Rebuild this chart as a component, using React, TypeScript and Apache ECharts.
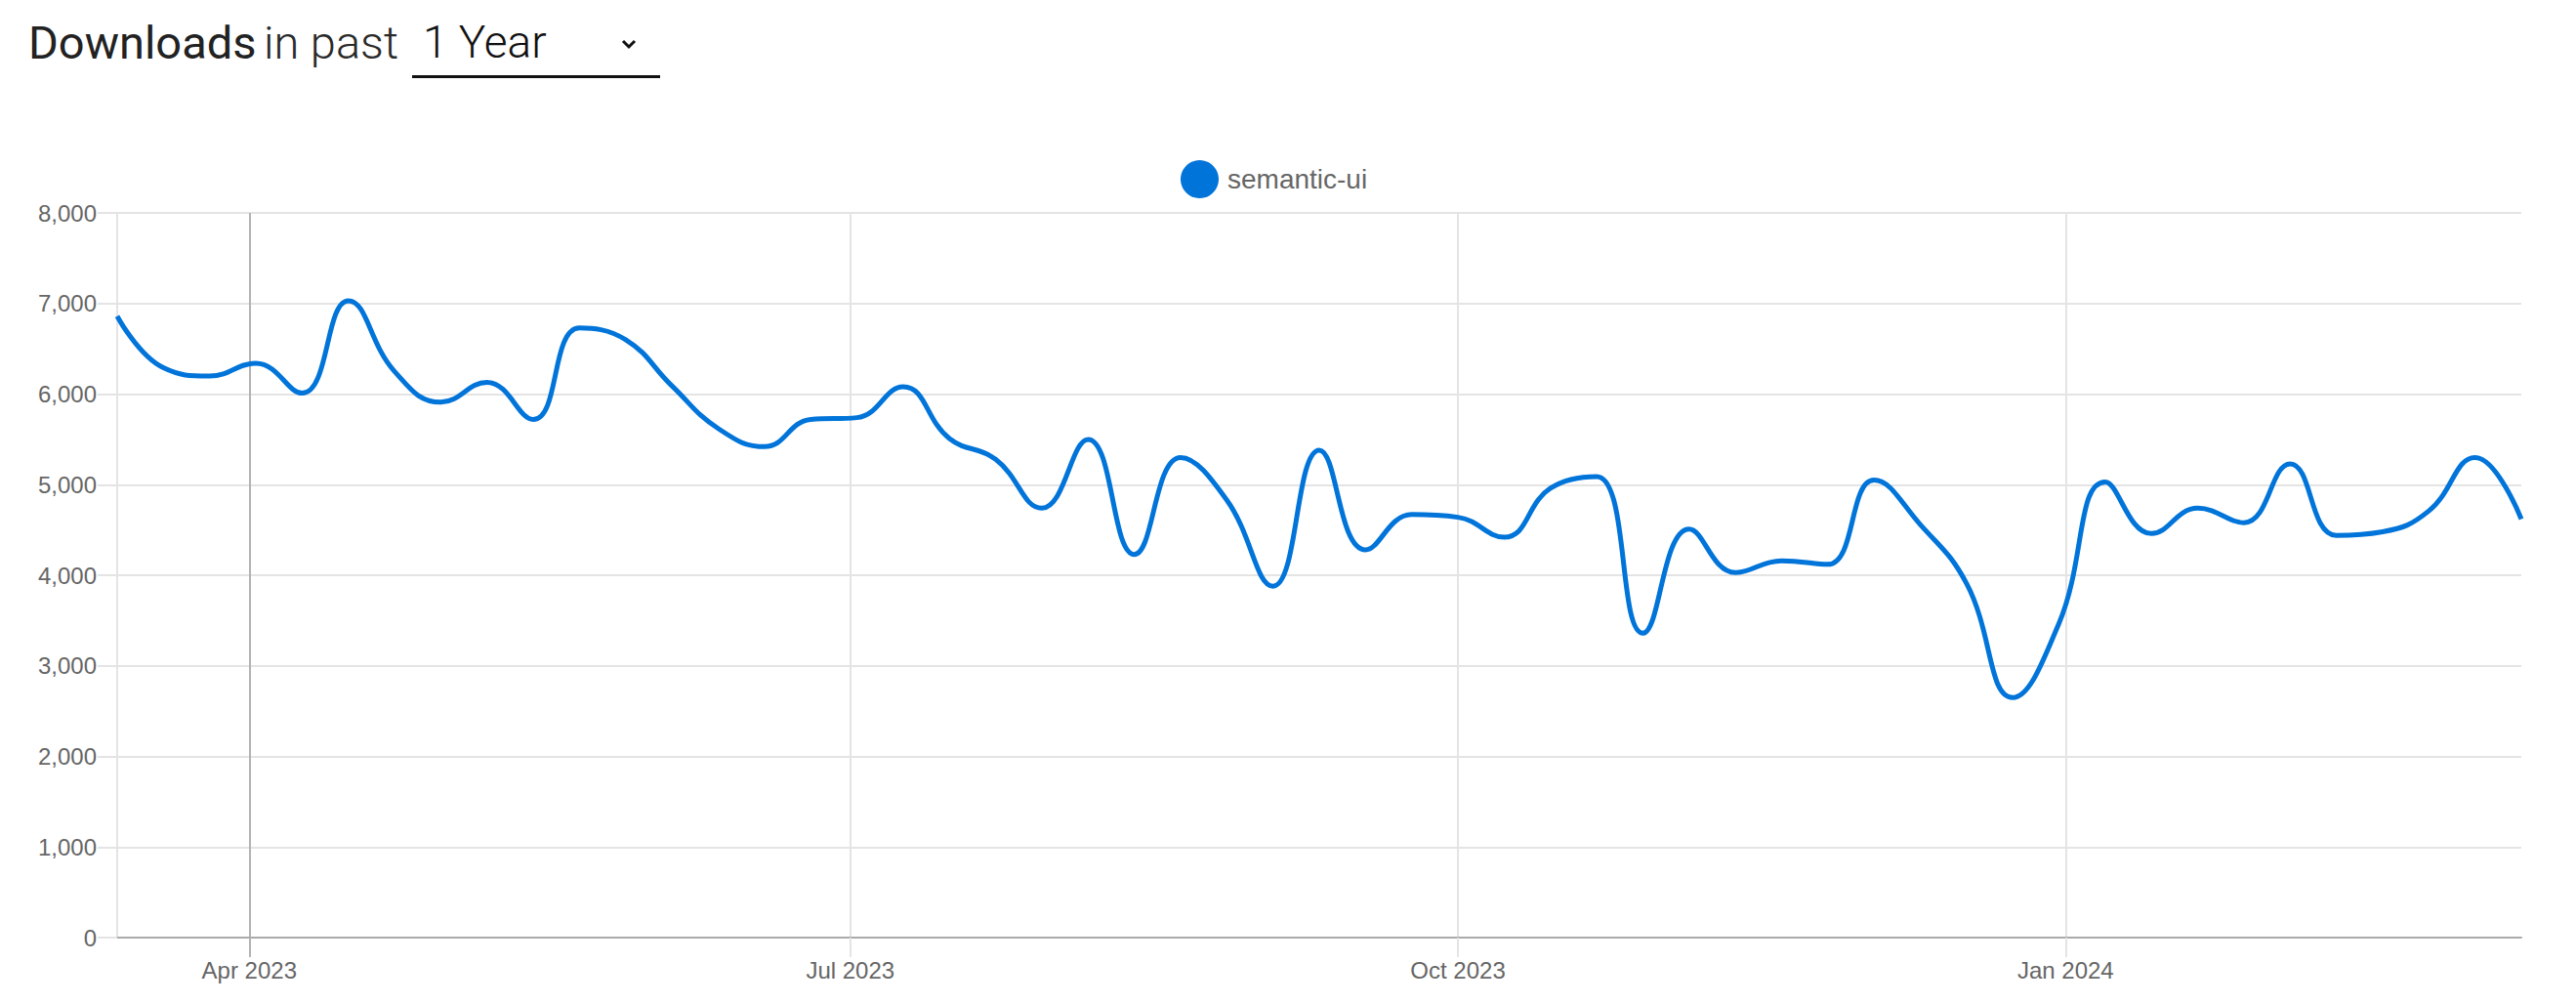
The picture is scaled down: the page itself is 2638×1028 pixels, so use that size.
import React, { useEffect, useRef } from 'react';
import * as echarts from 'echarts';

// Weekly points (week starting dates) for the past year
const weekDates: string[] = [
  '2023-03-12', '2023-03-19', '2023-03-26', '2023-04-02', '2023-04-09', '2023-04-16', '2023-04-23',
  '2023-04-30', '2023-05-07', '2023-05-14', '2023-05-21', '2023-05-28', '2023-06-04', '2023-06-11',
  '2023-06-18', '2023-06-25', '2023-07-02', '2023-07-09', '2023-07-16', '2023-07-23', '2023-07-30',
  '2023-08-06', '2023-08-13', '2023-08-20', '2023-08-27', '2023-09-03', '2023-09-10', '2023-09-17',
  '2023-09-24', '2023-10-01', '2023-10-08', '2023-10-15', '2023-10-22', '2023-10-29', '2023-11-05',
  '2023-11-12', '2023-11-19', '2023-11-26', '2023-12-03', '2023-12-10', '2023-12-17', '2023-12-24',
  '2023-12-31', '2024-01-07', '2024-01-14', '2024-01-21', '2024-01-28', '2024-02-04', '2024-02-11',
  '2024-02-18', '2024-02-25', '2024-03-03', '2024-03-10',
];

const downloads: number[] = [
  6860, 6290, 6200, 6340, 6010, 7030, 6250,
  5910, 6130, 5720, 6730, 6600, 6090, 5620,
  5420, 5720, 5740, 6080, 5510, 5280, 4740,
  5500, 4230, 5300, 4830, 3880, 5380, 4280,
  4670, 4640, 4420, 4960, 5090, 3360, 4510,
  4030, 4160, 4120, 5050, 4560, 3910, 2650,
  3470, 5030, 4460, 4740, 4580, 5230, 4440,
  4480, 4710, 5300, 4620,
];

const seriesName = 'semantic-ui';
const majorTickDate = '2023-04-01';
const minorTickDates: string[] = ['2023-07-01', '2023-10-01', '2024-01-01'];
const labelDates: string[] = ['2023-04-01', '2023-07-01', '2023-10-01', '2024-01-01'];
const monthNames: string[] = ['Jan', 'Feb', 'Mar', 'Apr', 'May', 'Jun', 'Jul', 'Aug', 'Sep', 'Oct', 'Nov', 'Dec'];
const yMin = 0;
const yMax = 8000;
const yInterval = 1000;

const headerBold = 'Downloads';
const headerLight = 'in past';
const periodLabel = '1 Year';

function ts(s: string): number {
  const [y, m, d] = s.split('-').map(Number);
  return new Date(y, m - 1, d).getTime();
}

const LINE_COLOR = '#0074d9';
const GRID_COLOR = '#e4e4e4';
const DARK_GRID = '#b3b3b3';
const FONT = '"Liberation Sans", Arial, Helvetica, sans-serif';
const HEADER_FONT = 'Roboto, "Liberation Sans", Arial, sans-serif';

export default function App() {
  const ref = useRef<HTMLDivElement>(null);

  useEffect(() => {
    if (!ref.current) return;
    const chart = echarts.init(ref.current, undefined, { renderer: 'svg' });
    const xMin = ts(weekDates[0]);
    const xMax = ts(weekDates[weekDates.length - 1]);
    const fmt = (v: number) => {
      const d = new Date(v);
      return `${monthNames[d.getMonth()]} ${d.getFullYear()}`;
    };

    const option: any = {
      animation: false,
      backgroundColor: '#ffffff',
      textStyle: { fontFamily: FONT },
      legend: {
        data: [seriesName],
        left: 1204,
        top: 159,
        icon: 'circle',
        itemWidth: 39,
        itemHeight: 39,
        textStyle: { fontSize: 28, color: '#666666', fontFamily: FONT, padding: [0, 0, 0, 4] },
      },
      grid: { left: 120, right: 56, top: 218, bottom: 68, containLabel: false, outerBoundsMode: 'none' },
      xAxis: [
        {
          type: 'value',
          min: xMin,
          max: xMax,
          position: 'bottom',
          axisLine: { show: true, onZero: false, lineStyle: { color: '#aaaaaa', width: 2 } },
          axisTick: {
            show: true,
            length: 20,
            lineStyle: { color: GRID_COLOR, width: 2 },
            customValues: minorTickDates.map(ts),
          },
          axisLabel: {
            customValues: labelDates.map(ts),
            formatter: (v: number) => fmt(v),
            fontSize: 24,
            color: '#666666',
            margin: 21,
            fontFamily: FONT,
          },
          splitLine: { show: true, lineStyle: { color: GRID_COLOR, width: 2 } },
        },
        {
          type: 'value',
          min: xMin,
          max: xMax,
          position: 'bottom',
          axisLine: { show: false, onZero: false },
          axisTick: {
            show: true,
            length: 20,
            lineStyle: { color: DARK_GRID, width: 2 },
            customValues: [ts(majorTickDate)],
          },
          axisLabel: { show: false },
          splitLine: { show: true, lineStyle: { color: DARK_GRID, width: 2 } },
        },
      ],
      yAxis: {
        type: 'value',
        min: yMin,
        max: yMax,
        interval: yInterval,
        axisLine: { show: true, lineStyle: { color: GRID_COLOR, width: 2 } },
        axisTick: { show: true, length: 20, lineStyle: { color: GRID_COLOR, width: 2 } },
        axisLabel: {
          fontSize: 24,
          color: '#666666',
          margin: 21,
          fontFamily: FONT,
          formatter: (v: number) => v.toLocaleString('en-US'),
        },
        splitLine: { show: true, showMinLine: false, lineStyle: { color: GRID_COLOR, width: 2 } },
      },
      series: [
        {
          name: seriesName,
          type: 'line',
          xAxisIndex: 0,
          data: weekDates.map((d, i) => [ts(d), downloads[i]]),
          smooth: 0.45,
          showSymbol: false,
          symbol: 'none',
          lineStyle: { color: LINE_COLOR, width: 5 },
          itemStyle: { color: LINE_COLOR },
          z: 5,
        },
      ],
      graphic: [
        {
          type: 'text',
          left: 29,
          top: 20,
          style: { text: headerBold, font: `400 47px ${HEADER_FONT}`, fill: '#222222' },
        },
        {
          type: 'text',
          left: 270,
          top: 20,
          style: { text: headerLight, font: `300 47px ${HEADER_FONT}`, fill: '#2a2a2a' },
        },
        {
          type: 'text',
          left: 433,
          top: 20,
          style: { text: periodLabel, font: `300 46px ${HEADER_FONT}`, fill: '#111111' },
        },
        {
          type: 'polyline',
          shape: { points: [[638, 42], [644, 48], [650, 42]] },
          style: { stroke: '#111111', lineWidth: 3, fill: null },
        },
        {
          type: 'rect',
          shape: { x: 422, y: 77, width: 254, height: 3 },
          style: { fill: '#111111' },
        },
      ],
    };

    chart.setOption(option);
    return () => chart.dispose();
  }, []);

  return (
    <div
      ref={ref}
      style={{ position: 'absolute', left: 0, top: 0, width: 2638, height: 1028, background: '#fff' }}
    />
  );
}
